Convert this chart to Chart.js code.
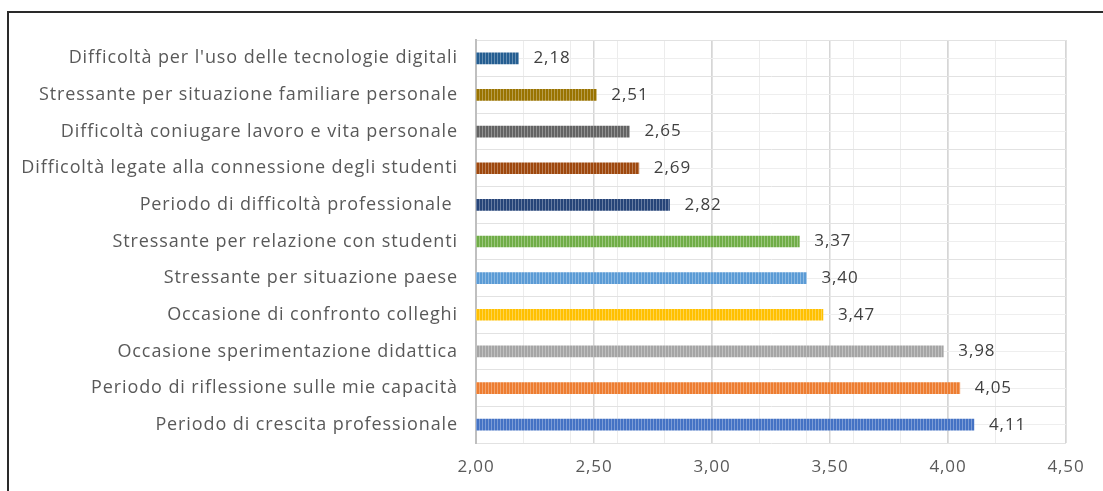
<!DOCTYPE html>
<html>
<head>
<meta charset="utf-8">
<script src="https://cdn.jsdelivr.net/npm/chart.js@4/dist/chart.umd.min.js"></script>
<style>
  html, body { margin: 0; padding: 0; background: #fff; }
  #wrap { position: relative; width: 1103px; height: 491px; overflow: hidden; }
  #frame { position: absolute; left: 7px; top: 11px; width: 1200px; height: 600px;
           border-left: 2px solid #2a2a2a; border-top: 2px solid #2a2a2a; }
  canvas { position: absolute; left: 0; top: 0; }
</style>
</head>
<body>
<div id="wrap">
  <div id="frame"></div>
  <canvas id="chart" width="1103" height="491"></canvas>
</div>
<script>
// categories top to bottom
const categories = [
    "Difficoltà per l'uso delle tecnologie digitali",
    'Stressante per situazione familiare personale',
    'Difficoltà coniugare lavoro e vita personale',
    'Difficoltà legate alla connessione degli studenti',
    'Periodo di difficoltà professionale ',
    'Stressante per relazione con studenti',
    'Stressante per situazione paese',
    'Occasione di confronto colleghi',
    'Occasione sperimentazione didattica',
    'Periodo di riflessione sulle mie capacità',
    'Periodo di crescita professionale'
];
const values = [2.18, 2.51, 2.65, 2.69, 2.82, 3.37, 3.40, 3.47, 3.98, 4.05, 4.11];
const barColors = ['#255E91', '#997300', '#636363', '#9E480E', '#264478', '#70AD47',
                   '#5B9BD5', '#FFC000', '#A5A5A5', '#ED7D31', '#4472C4'];
const xMin = 2.0;
const xMax = 4.5;
const xStep = 0.5;

const fmt = v => v.toFixed(2).replace('.', ',');
const FONT = "'Open Sans', sans-serif";

// vertical-stripe fill like the Excel pattern
function lighten(hex, amt) {
    const n = parseInt(hex.slice(1), 16);
    const r = (n >> 16) & 255, g = (n >> 8) & 255, b = n & 255;
    const m = c => Math.round(c + (255 - c) * amt);
    return `rgb(${m(r)},${m(g)},${m(b)})`;
}
function stripePattern(hex) {
    const c = document.createElement('canvas');
    c.width = 3; c.height = 1;
    const g = c.getContext('2d');
    g.fillStyle = hex;
    g.fillRect(0, 0, 2, 1);
    g.fillStyle = lighten(hex, 0.3);
    g.fillRect(2, 0, 1, 1);
    return g.createPattern(c, 'repeat');
}

// the source text is a bit loosely spaced
const spacing = {
    id: 'spacing',
    beforeDraw(chart) {
        chart.ctx.letterSpacing = '0.9px';
    }
};

const valueLabels = {
    id: 'valueLabels',
    afterDatasetsDraw(chart) {
        const ctx = chart.ctx;
        const meta = chart.getDatasetMeta(0);
        ctx.save();
        ctx.font = '17px ' + FONT;
        ctx.fillStyle = '#404040';
        ctx.textAlign = 'left';
        ctx.textBaseline = 'middle';
        meta.data.forEach((bar, i) => {
            ctx.fillText(fmt(values[i]), bar.x + 15, bar.y);
        });
        ctx.restore();
    }
};

const ctx = document.getElementById('chart').getContext('2d');
new Chart(ctx, {
    type: 'bar',
    data: {
        labels: categories,
        datasets: [{
            data: values,
            backgroundColor: barColors.map(stripePattern),
            borderWidth: 0,
            barThickness: 11,
            xAxisID: 'x',
            yAxisID: 'y'
        }]
    },
    options: {
        indexAxis: 'y',
        responsive: false,
        animation: false,
        devicePixelRatio: 1,
        layout: { padding: { left: 0, right: 37, top: 40, bottom: 0 } },
        plugins: { legend: { display: false }, tooltip: { enabled: false } },
        scales: {
            x2: {
                type: 'linear',
                position: 'bottom',
                min: xMin,
                max: xMax,
                ticks: { display: false, stepSize: 0.2 },
                grid: { color: '#ececec', lineWidth: 1, drawTicks: false },
                border: { display: false },
                afterFit: s => { s.height = 0; }
            },
            x: {
                type: 'linear',
                position: 'bottom',
                min: xMin,
                max: xMax,
                ticks: {
                    stepSize: xStep,
                    padding: 14,
                    color: '#595959',
                    font: { family: FONT, size: 17 },
                    callback: v => fmt(v)
                },
                grid: { color: '#d6d6d6', lineWidth: 1.5, drawTicks: false },
                border: { display: false },
                afterFit: s => { s.height = 48; }
            },
            y2: {
                type: 'category',
                position: 'left',
                offset: true,
                ticks: { display: false },
                grid: { offset: false, color: '#eeeeee', drawTicks: false },
                border: { display: false },
                afterFit: s => { s.width = 0; }
            },
            y: {
                type: 'category',
                position: 'left',
                offset: true,
                ticks: {
                    padding: 18,
                    color: '#595959',
                    font: { family: FONT, size: 18 }
                },
                grid: { offset: true, color: '#e2e2e2', drawTicks: false },
                border: { display: true, color: '#bfbfbf', width: 2 },
                afterFit: s => { s.width = 476; }
            }
        }
    },
    plugins: [spacing, valueLabels]
});
</script>
</body>
</html>
